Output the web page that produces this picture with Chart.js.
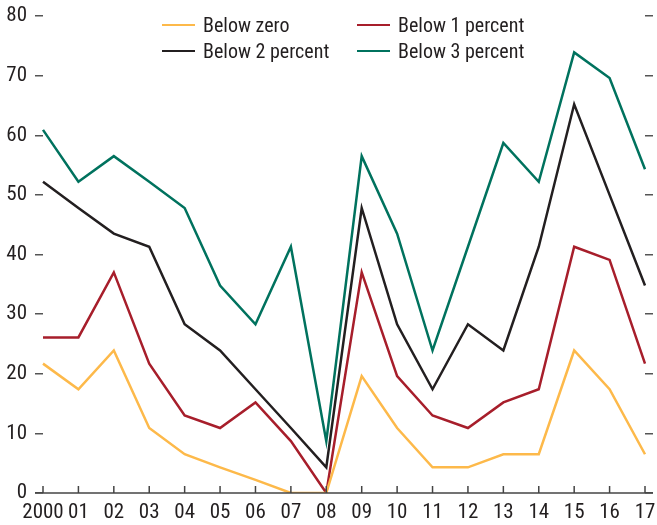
<!DOCTYPE html>
<html>
<head>
<meta charset="utf-8">
<script src="https://cdn.jsdelivr.net/npm/chart.js@4.4.1/dist/chart.umd.min.js"></script>
<style>
  html, body { margin: 0; padding: 0; background: #fff; }
  #wrap { position: relative; width: 657px; height: 525px; }
  #legend { position: absolute; left: 0; top: 0; width: 657px; height: 70px;
    font-family: "Roboto Condensed", "Liberation Sans", sans-serif; font-size: 20px; color: #231f20; }
  .item { position: absolute; display: flex; align-items: center; height: 24px; white-space: nowrap; }
  .sw { width: 33px; height: 2.5px; margin-right: 8px; }
</style>
</head>
<body>
<div id="wrap">
  <canvas id="c" width="657" height="525"></canvas>
  <div id="legend"></div>
</div>
<script>
const years = ["2000","01","02","03","04","05","06","07","08","09","10","11","12","13","14","15","16","17"];
const belowZero    = [21.7,17.4,23.9,10.9,6.5,4.3,2.2,0,0,19.6,10.9,4.3,4.3,6.5,6.5,23.9,17.4,6.5];
const belowOne     = [26.1,26.1,37.0,21.7,13.0,10.9,15.2,8.7,0,37.0,19.6,13.0,10.9,15.2,17.4,41.3,39.1,21.7];
const belowTwo     = [52.2,47.8,43.5,41.3,28.3,23.9,17.4,10.9,4.3,47.8,28.3,17.4,28.3,23.9,41.3,65.2,50.0,34.8];
const belowThree   = [60.9,52.2,56.5,52.2,47.8,34.8,28.3,41.3,8.7,56.5,43.5,23.9,41.3,58.7,52.2,73.9,69.6,54.3];
const seriesNames  = ["Below zero","Below 1 percent","Below 2 percent","Below 3 percent"];
const seriesColors = ["#FDB94A","#A71E2B","#231F20","#00725E"];
const yTicks = [0,10,20,30,40,50,60,70,80];

const FONT = '"Roboto Condensed", "Liberation Sans", sans-serif';
const seriesData = [belowZero, belowOne, belowTwo, belowThree];

const datasets = seriesData.map((d, i) => ({
  label: seriesNames[i],
  data: d,
  borderColor: seriesColors[i],
  backgroundColor: seriesColors[i],
  borderWidth: 2.5,
  pointRadius: 0,
  tension: 0,
  fill: false
}));

// bottom axis line (spanning the outer y tick marks) and inward x tick marks
const axisPlugin = {
  id: 'axisPlugin',
  afterDatasetsDraw(chart) {
    const ctx = chart.ctx;
    const xs = chart.scales.x;
    const y0 = chart.scales.y.getPixelForValue(0);
    const area = chart.chartArea;
    ctx.save();
    ctx.strokeStyle = '#444';
    ctx.lineWidth = 1.5;
    ctx.beginPath();
    ctx.moveTo(area.left - 8, y0);
    ctx.lineTo(area.right + 8, y0);
    ctx.stroke();
    years.forEach((lab, i) => {
      const x = xs.getPixelForValue(i);
      ctx.beginPath();
      ctx.moveTo(x, y0);
      ctx.lineTo(x, y0 - 7);
      ctx.stroke();
    });
    ctx.restore();
  }
};

const yGrid = {
  drawOnChartArea: false,
  drawTicks: true,
  tickLength: 8,
  color: '#555',
  lineWidth: 1.5
};

const fitY = (w) => (s) => { s.width = w; s.paddingTop = 0; s.paddingBottom = 0; };

new Chart(document.getElementById('c'), {
  type: 'line',
  data: { labels: years, datasets },
  plugins: [axisPlugin],
  options: {
    responsive: false,
    animation: false,
    layout: { padding: { top: 16, left: 0, right: 0, bottom: 0 } },
    plugins: { legend: { display: false }, tooltip: { enabled: false } },
    scales: {
      x: {
        type: 'category',
        offset: false,
        grid: { display: false, drawTicks: false },
        border: { display: false },
        ticks: { color: '#231f20', font: { family: FONT, size: 21 }, padding: 7, maxRotation: 0, autoSkip: false },
        afterFit: (s) => { s.height = 32; s.paddingLeft = 0; s.paddingRight = 0; }
      },
      y: {
        position: 'left',
        min: 0, max: 80,
        afterBuildTicks: (s) => { s.ticks = yTicks.map(v => ({ value: v })); },
        grid: yGrid,
        border: { display: false },
        ticks: { color: '#231f20', font: { family: FONT, size: 21 }, padding: 8 },
        afterFit: fitY(43)
      },
      y2: {
        position: 'right',
        min: 0, max: 80,
        afterBuildTicks: (s) => { s.ticks = yTicks.map(v => ({ value: v })); },
        grid: yGrid,
        border: { display: false },
        ticks: { color: 'rgba(0,0,0,0)', font: { family: FONT, size: 21 } },
        afterFit: fitY(12)
      }
    }
  }
});

// legend (HTML, built from series names/colors)
const legend = document.getElementById('legend');
const pos = [[162, 13], [357, 13], [162, 39], [357, 39]];
seriesNames.forEach((n, i) => {
  const it = document.createElement('div');
  it.className = 'item';
  it.style.left = pos[i][0] + 'px';
  it.style.top = pos[i][1] + 'px';
  const sw = document.createElement('span');
  sw.className = 'sw';
  sw.style.background = seriesColors[i];
  const tx = document.createElement('span');
  tx.textContent = n;
  it.appendChild(sw); it.appendChild(tx);
  legend.appendChild(it);
});
</script>
</body>
</html>
